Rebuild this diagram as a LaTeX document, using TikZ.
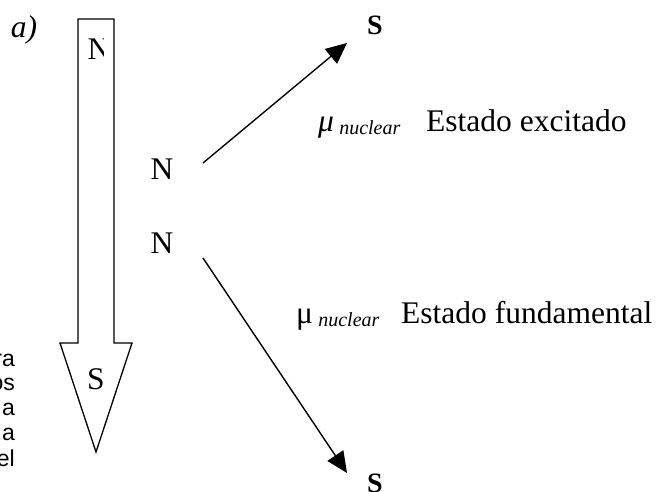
\documentclass[tikz,border=0pt]{standalone}
\usepackage{fontspec}
\setmainfont{Liberation Serif}
\setsansfont{Liberation Sans}
\newfontfamily\heavyserif{Liberation Serif Bold}
\usepackage{tikz}
\usetikzlibrary{arrows.meta,positioning,calc}
\tikzset{
  >={Triangle[length=21pt,width=19pt]},
  every node/.style={inner sep=0pt,text=black},
  pole/.style={font=\fontsize{31.5}{36}\selectfont},
  polebold/.style={font=\heavyserif\fontsize{28}{32}\selectfont},
  magnet/.style={draw=black,line width=1.3pt,fill=white,line join=miter},
  spin/.style={->,line width=1.4pt,draw=black},
  state/.style={anchor=base west,font=\fontsize{31.5}{36}\selectfont},
  moment/.style={anchor=base west,font=\fontsize{31.5}{36}\selectfont},
  sidetext/.style={anchor=base east,font=\sffamily\fontsize{23}{26}\selectfont}
}
\newcommand{\nuc}[1]{\raisebox{-3pt}{\fontsize{20}{24}\selectfont\itshape #1}}

\begin{document}
\begin{tikzpicture}[x=1pt,y=-1pt]
  \useasboundingbox (0,0) rectangle (659,492);
  \clip (0,0) rectangle (659,492);

  % external field (big arrow)
  \draw[magnet] (78,19) -- (114,19) -- (114,343) -- (132,343) -- (96,452)
    -- (60,343) -- (78,343) -- cycle;
  \begin{scope}
    \clip (80,21) rectangle (103,80);
    \node[pole] (fieldN) at (99,49) {N};
  \end{scope}
  \node[pole] (fieldS) at (96,379) {S};
  \node[pole,font=\fontsize{31.5}{36}\selectfont\itshape] (label) at (24,30) {a)};

  % cut-off text on the left
  \node[sidetext] (txtA) at (15,366) {ra};
  \node[sidetext] (txtB) at (15,390) {os};
  \node[sidetext] (txtC) at (15,415) {a};
  \node[sidetext] (txtD) at (15,440) {a};
  \node[sidetext] (txtE) at (15,466) {el};

  % nuclear moments
  \node[pole] (nExc) at (162,169) {N};
  \node[pole] (nFund) at (162,243) {N};
  \node[polebold] (sExc) at (375,25) {S};
  \node[polebold] (sFund) at (375,483) {S};

  \coordinate (excStart) at (203,163);
  \coordinate (excEnd) at (347,43);
  \coordinate (fundStart) at (203,258);
  \coordinate (fundEnd) at (347,473);
  \draw[spin] (excStart) -- (excEnd);
  \draw[spin] (fundStart) -- (fundEnd);

  \node[moment] (muExc) at (318,132) {\textit{μ}\,\nuc{nuclear}};
  \node[state] (stExc) at (426,132) {Estado excitado};
  \node[moment] (muFund) at (296,323) {μ\,\nuc{nuclear}};
  \node[state] (stFund) at (401,323) {Estado fundamental};
\end{tikzpicture}
\end{document}
